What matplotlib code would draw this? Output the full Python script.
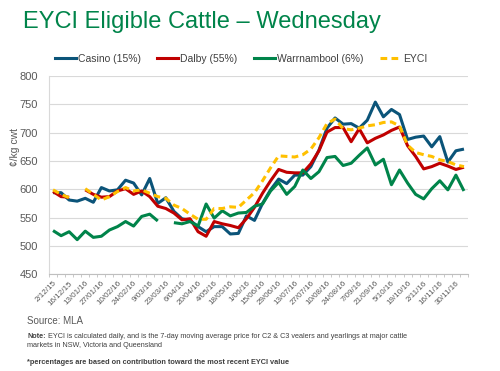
import numpy as np
import matplotlib.pyplot as plt
from matplotlib.lines import Line2D

plt.rcParams['font.family'] = ['Liberation Sans', 'DejaVu Sans']

nan = np.nan

# weekly Wednesday sale dates (no sales over the Christmas break)
dates = ['2/12/15', '9/12/15', '16/12/15', '6/01/16', '13/01/16', '20/01/16',
         '27/01/16', '3/02/16', '10/02/16', '17/02/16', '24/02/16', '2/03/16',
         '9/03/16', '16/03/16', '23/03/16', '30/03/16', '6/04/16', '13/04/16',
         '20/04/16', '27/04/16', '4/05/16', '11/05/16', '18/05/16', '25/05/16',
         '1/06/16', '8/06/16', '15/06/16', '22/06/16', '29/06/16', '6/07/16',
         '13/07/16', '20/07/16', '27/07/16', '3/08/16', '10/08/16', '17/08/16',
         '24/08/16', '31/08/16', '7/09/16', '14/09/16', '21/09/16', '28/09/16',
         '5/10/16', '12/10/16', '19/10/16', '26/10/16', '2/11/16', '9/11/16',
         '16/11/16', '23/11/16', '30/11/16', '7/12/16']

casino = [594, 594, 581, 579, 584, 577, 603, 597, 599, 616, 611, 590, 619,
          575, 585, 561, 548, 545, 534, 525, 534, 534, 521, 522, 553, 545,
          575, 599, 618, 610, 625, 625, 640, 669, 708, 726, 715, 716, 708,
          722, 754, 728, 741, 732, 688, 692, 694, 675, 693, 648, 668, 671]

dalby = [596, 587, 586, nan, 599, 591, 586, 587, 597, 601, 591, 597, 587,
         570, 566, 558, 546, 548, 525, 517, 543, 539, 536, 532, 548, 568,
         593, 615, 635, 630, 629, 629, 645, 668, 701, 709, 709, 684, 707,
         682, 690, 696, 704, 710, 677, 658, 636, 640, 646, 641, 635, 639]

warrnambool = [527, 518, 525, 511, 526, 515, 517, 528, 534, 543, 535, 552,
               556, 544, nan, 541, 539, 543, 535, 574, 549, 562, 553, 558,
               559, 570, 574, 597, 612, 591, 605, 634, 619, 631, 656, 658,
               642, 646, 660, 673, 643, 653, 608, 634, 611, 591, 583, 601,
               615, 599, 625, 597]

eyci = [599, 591, 585, nan, 601, 591, 581, 587, 596, 603, 597, 599, 593,
        587, 584, 572, 566, 556, 547, 547, 566, 566, 569, 568, 581, 594,
        615, 638, 659, 658, 657, 661, 671, 691, 716, 724, 707, 705, 708,
        712, 714, 718, 719, 712, 678, 665, 661, 658, 652, 649, 643, 640]

names = ['Casino (15%)', 'Dalby (55%)', 'Warrnambool (6%)', 'EYCI']
colors = ['#0B5479', '#C00000', '#00844A', '#FFC000']

x = np.arange(len(dates))

fig = plt.figure(figsize=(5, 3.71), dpi=100)
ax = fig.add_axes([0.098, 0.261, 0.838, 0.534])

for y, c, lab in zip([casino, dalby, warrnambool], colors[:3], names[:3]):
    ax.plot(x, y, color=c, lw=2.2, label=lab, solid_capstyle='butt')
ax.plot(x, eyci, color=colors[3], lw=2.2, ls=(0, (2.2, 1.4)), label=names[3])

ax.set_xlim(-0.5, len(dates) - 0.5)
ax.set_ylim(450, 800)
ax.set_yticks(np.arange(450, 801, 50))
ax.grid(axis='y', color='#D9D9D9', lw=0.8)
ax.set_axisbelow(True)

for s in ['top', 'right']:
    ax.spines[s].set_visible(False)
ax.spines['left'].set_color('#D9D9D9')
ax.spines['bottom'].set_color('#BFBFBF')

ax.set_xticks(x[::2])
ax.set_xticklabels(dates[::2], rotation=45, ha='right', rotation_mode='anchor',
                   fontsize=5.8, color='#595959')
ax.set_xticks(np.arange(-0.5, len(dates), 1), minor=True)
ax.tick_params(axis='x', which='major', length=0, pad=4)
ax.tick_params(axis='x', which='minor', length=2.5, color='#BFBFBF', width=0.6)
ax.tick_params(axis='y', length=0, labelsize=8, labelcolor='#595959', pad=8)

fig.text(0.046, 0.97, 'EYCI Eligible Cattle \u2013 Wednesday', fontsize=17,
         color='#00844A', va='top', ha='left')

handles = [Line2D([], [], color=c, lw=2.2) for c in colors[:3]]
handles.append(Line2D([], [], color=colors[3], lw=2.2, ls=(0, (2.2, 1.4))))
fig.legend(handles, names, loc='center', bbox_to_anchor=(0.482, 0.841), ncol=4,
           frameon=False, fontsize=7.5, handlelength=2.0, handletextpad=0.2,
           columnspacing=1.6, labelcolor='#404040')

fig.text(0.03, 0.605, '\u00a2/kg cwt', rotation=90, fontsize=7.5,
         color='#595959', ha='center', va='center')

fig.text(0.054, 0.136, 'Source: MLA', fontsize=7, color='#595959', va='center')
note = fig.text(0.054, 0.093, 'Note:', fontsize=5.2, color='#404040',
                va='center', fontweight='bold')
ax.annotate('EYCI is calculated daily, and is the 7-day moving average price for '
            'C2 & C3 vealers and yearlings at major cattle',
            xy=(1, 0.5), xycoords=note, xytext=(1.5, 0), textcoords='offset points',
            fontsize=5.2, color='#404040', va='center', annotation_clip=False)
fig.text(0.054, 0.070, 'markets in NSW, Victoria and Queensland',
         fontsize=5.2, color='#404040', va='center')
fig.text(0.054, 0.023, '*percentages are based on contribution toward the most recent EYCI value',
         fontsize=5.3, color='#404040', va='center', fontweight='bold')

plt.savefig('out.png', dpi=100)
